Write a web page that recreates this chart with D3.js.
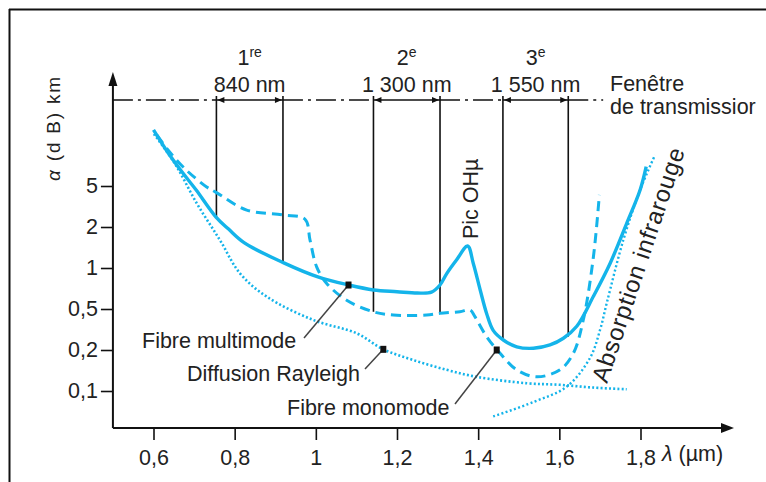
<!DOCTYPE html>
<html><head><meta charset="utf-8">
<script src="https://cdn.jsdelivr.net/npm/d3@7"></script>
<style>
body{margin:0;background:#fff;}
svg text{font-family:"Liberation Sans",Arial,sans-serif;fill:#222;}
</style>
</head><body>
<svg id="c" width="766" height="482"></svg>
<script>
// ---------- data ----------
const xTicks=[0.6,0.8,1,1.2,1.4,1.6,1.8];
const xTickLabels=["0,6","0,8","1","1,2","1,4","1,6","1,8"];
const yTicks=[0.1,0.2,0.5,1,2,5];
const yTickLabels=["0,1","0,2","0,5","1","2","5"];

const multimodeL=[0.6,0.6325,0.6695,0.7047,0.754,0.785,0.824,0.921,1.005,1.081,1.142,1.20,1.25,1.285,1.306,1.3225,1.347,1.374,1.388,1.405,1.421,1.437,1.462,1.495,1.536,1.577,1.61,1.643,1.684,1.725,1.766,1.799,1.814];
const multimodeA=[17.5,11.0,6.9,4.6,2.5,1.93,1.53,1.09,0.86,0.75,0.69,0.67,0.655,0.665,0.75,0.91,1.15,1.45,1.08,0.69,0.45,0.31,0.25,0.215,0.208,0.224,0.26,0.34,0.62,1.08,2.17,4.57,7.7];

const monomodeL=[0.6086,0.6357,0.6767,0.731,0.754,0.8297,0.92,0.9733,0.9857,1.002,1.0268,1.076,1.1417,1.191,1.273,1.306,1.355,1.38,1.392,1.421,1.454,1.495,1.544,1.6017,1.6345,1.659,1.684,1.6986];
const monomodeA=[15.6,11.2,7.4,4.89,4.34,2.92,2.62,2.38,1.6,1.02,0.77,0.58,0.47,0.437,0.437,0.454,0.471,0.489,0.421,0.269,0.189,0.143,0.127,0.143,0.189,0.391,1.21,4.09];

const rayleighL=[0.601,0.653,0.7065,0.7639,0.813,0.879,0.9938,1.1008,1.1663,1.2395,1.3225,1.3965,1.5197,1.6017,1.683,1.766];
const rayleighA=[16.0,8.2,3.4,1.6,0.914,0.616,0.391,0.29,0.203,0.169,0.143,0.127,0.114,0.111,0.106,0.103];

const infraredL=[1.437,1.536,1.618,1.6757,1.7003,1.7175,1.7577,1.7989,1.8358];
const infraredA=[0.065,0.083,0.1075,0.175,0.313,0.563,1.605,4.57,10.0];

const winStart=[0.755,1.142,1.461];
const winEnd=[0.919,1.306,1.622];
const winStartFloor=[2.5,0.47,0.25];
const winEndFloor=[1.09,0.454,0.27];
const winOrdinal=["1","2","3"];
const winSup=["re","e","e"];
const winNm=["840 nm","1 300 nm","1 550 nm"];
const windowLineEnd=1.708;

const markerL=[1.0805,1.1663,1.4457];
const markerA=[0.75,0.203,0.2];
const labelText=["Fibre multimode","Diffusion Rayleigh","Fibre monomode"];

// ---------- layout ----------
const svg=d3.select("#c");
const CY="#14b4ea";
const FS=21.5;
const x=d3.scaleLinear().domain([0.6,1.8]).range([153.5,640.5]);
const y=d3.scaleLog().domain(yTicks).range(yTicks.map((d,i)=>391-41*i));
const axisY=428, axisX=x(0.5);

// frame
svg.append("line").attr("x1",9.5).attr("x2",9.5).attr("y1",9).attr("y2",482).attr("stroke","#111").attr("stroke-width",2);
svg.append("line").attr("x1",9).attr("x2",766).attr("y1",9.5).attr("y2",9.5).attr("stroke","#111").attr("stroke-width",2);

// axes
const g=svg.append("g");
g.append("line").attr("x1",axisX).attr("x2",726).attr("y1",axisY).attr("y2",axisY).attr("stroke","#111").attr("stroke-width",2);
g.append("path").attr("d",`M734,${axisY} L721,${axisY-5} L721,${axisY+5} Z`).attr("fill","#111");
g.append("line").attr("x1",axisX).attr("x2",axisX).attr("y1",axisY).attr("y2",82).attr("stroke","#111").attr("stroke-width",2);
g.append("path").attr("d",`M${axisX},72 L${axisX-4.5},86 L${axisX+4.5},86 Z`).attr("fill","#111");

const xa=d3.axisBottom(x).tickValues(xTicks).tickFormat((d,i)=>xTickLabels[i]).tickSize(12).tickPadding(10);
const gx=svg.append("g").attr("transform",`translate(0,${axisY})`).call(xa);
gx.select(".domain").remove();
gx.selectAll("line").attr("stroke","#111").attr("stroke-width",1.6);
gx.selectAll("text").attr("font-size",FS).attr("fill","#222").attr("font-family","Liberation Sans, Arial");

const ya=d3.axisLeft(y).tickValues(yTicks).tickFormat((d,i)=>yTickLabels[i]).tickSize(12).tickPadding(3);
const gy=svg.append("g").attr("transform",`translate(${axisX},0)`).call(ya);
gy.select(".domain").remove();
gy.selectAll("line").attr("stroke","#111").attr("stroke-width",1.6);
gy.selectAll("text").attr("font-size",FS).attr("fill","#222").attr("font-family","Liberation Sans, Arial");

svg.append("text").attr("x",662).attr("y",461).attr("font-size",FS)
  .html('<tspan font-style="italic">λ</tspan> (µm)');

svg.append("text").attr("transform","translate(60,128) rotate(-90)").attr("text-anchor","middle")
  .attr("font-size",19).attr("letter-spacing",1.8).html('<tspan font-style="italic">α</tspan> (d B) km');

// transmission windows
const lineY=100;
const dd=[[axisX,x(winStart[0])],[x(winEnd[0]),x(winStart[1])],[x(winEnd[1]),x(winStart[2])],[x(winEnd[2]),x(windowLineEnd)]];
dd.forEach(s=>svg.append("line").attr("x1",s[0]).attr("x2",s[1]).attr("y1",lineY).attr("y2",lineY)
  .attr("stroke","#111").attr("stroke-width",1.6).attr("stroke-dasharray","20,5,3,5"));
winStart.forEach((s,i)=>{
  const a=x(s), b=x(winEnd[i]);
  svg.append("line").attr("x1",a).attr("x2",a).attr("y1",96).attr("y2",y(winStartFloor[i])).attr("stroke","#111").attr("stroke-width",1.6);
  svg.append("line").attr("x1",b).attr("x2",b).attr("y1",96).attr("y2",y(winEndFloor[i])).attr("stroke","#111").attr("stroke-width",1.6);
  svg.append("line").attr("x1",a).attr("x2",b).attr("y1",lineY).attr("y2",lineY).attr("stroke","#111").attr("stroke-width",1.6);
  svg.append("path").attr("d",`M${a+1},${lineY} L${a+8},${lineY-3} L${a+8},${lineY+3} Z`).attr("fill","#111");
  svg.append("path").attr("d",`M${b-1},${lineY} L${b-8},${lineY-3} L${b-8},${lineY+3} Z`).attr("fill","#111");
  const m=(a+b)/2;
  svg.append("text").attr("x",m).attr("y",65).attr("text-anchor","middle").attr("font-size",FS)
    .html(`${winOrdinal[i]}<tspan font-size="14" dy="-8">${winSup[i]}</tspan>`);
  svg.append("text").attr("x",m).attr("y",92).attr("text-anchor","middle").attr("font-size",FS).text(winNm[i]);
});
svg.append("text").attr("x",610).attr("y",91).attr("font-size",FS).text("Fenêtre");
svg.append("text").attr("x",610).attr("y",114).attr("font-size",FS).text("de transmissior");

// curves
const line=d3.line().x(d=>x(d[0])).y(d=>y(d[1])).curve(d3.curveCatmullRom.alpha(0.5));
const zip=(a,b)=>a.map((v,i)=>[v,b[i]]);
svg.append("path").attr("d",line(zip(rayleighL,rayleighA))).attr("fill","none").attr("stroke",CY).attr("stroke-width",2.6).attr("stroke-dasharray","2,2.2");
svg.append("path").attr("d",line(zip(infraredL,infraredA))).attr("fill","none").attr("stroke",CY).attr("stroke-width",2.4).attr("stroke-dasharray","2,2.4");
svg.append("path").attr("d",line(zip(monomodeL,monomodeA))).attr("fill","none").attr("stroke",CY).attr("stroke-width",3).attr("stroke-dasharray","10,6");
svg.append("path").attr("d",line(zip(multimodeL,multimodeA))).attr("fill","none").attr("stroke",CY).attr("stroke-width",3.4);

// annotations
const leaderFrom=[[304,338],[365,369],[455,404]];
const labelPos=[[142,348],[187,381],[287,415]];
markerL.forEach((l,i)=>{
  svg.append("line").attr("x1",leaderFrom[i][0]).attr("y1",leaderFrom[i][1]).attr("x2",x(l)).attr("y2",y(markerA[i]))
    .attr("stroke","#444").attr("stroke-width",1.5);
  svg.append("rect").attr("x",x(l)-3).attr("y",y(markerA[i])-3.5).attr("width",6).attr("height",7).attr("fill","#111");
  svg.append("text").attr("x",labelPos[i][0]).attr("y",labelPos[i][1]).attr("font-size",FS).text(labelText[i]);
});
svg.append("text").attr("transform","translate(478,239) rotate(-90)").attr("font-size",FS).text("Pic OHµ");
svg.append("text").attr("transform","translate(607,384) rotate(-71.5)").attr("font-size",24).attr("letter-spacing",0.8).text("Absorption infrarouge");
</script>
</body></html>
